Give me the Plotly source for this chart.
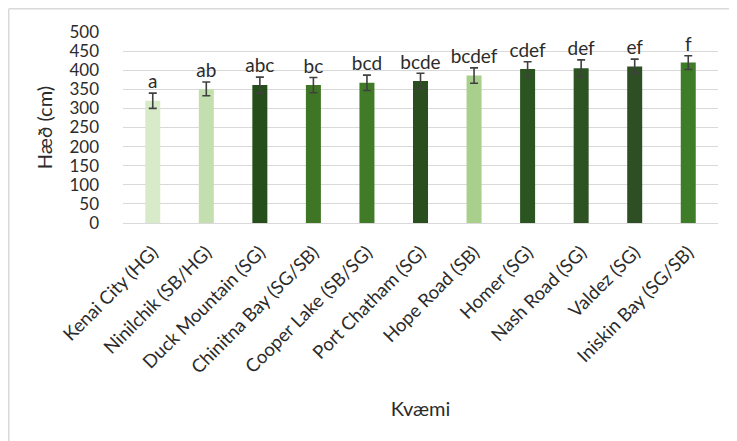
import plotly.graph_objects as go

categories = ["Kenai City (HG)", "Ninilchik (SB/HG)", "Duck Mountain (SG)", "Chinitna Bay (SG/SB)",
              "Cooper Lake (SB/SG)", "Port Chatham (SG)", "Hope Road (SB)", "Homer (SG)",
              "Nash Road (SG)", "Valdez (SG)", "Iniskin Bay (SG/SB)"]
heights = [320, 351, 361, 361, 367, 372, 386, 403, 405, 410, 420]
errors = [20, 18, 21, 20, 20, 20, 20, 19, 22, 19, 18]
letters = ["a", "ab", "abc", "bc", "bcd", "bcde", "bcdef", "cdef", "def", "ef", "f"]
colors = ["#d8ebc9", "#c3dfb0", "#254e1b", "#3f7626", "#417b27", "#284f1d", "#a8d08c",
          "#2b5520", "#2d5323", "#2e4f24", "#3f7c28"]
y_ticks = [0, 50, 100, 150, 200, 250, 300, 350, 400, 450, 500]

FONT = "Lato, Open Sans, sans-serif"
TXT = "#2b2b2b"

fig = go.Figure()
fig.add_trace(go.Bar(
    x=categories, y=heights,
    marker=dict(color=colors, line=dict(width=0)),
    width=0.28,
    error_y=dict(type="data", array=errors, visible=True, color="#404040", thickness=1.6, width=4),
    showlegend=False,
))
fig.add_trace(go.Scatter(
    x=categories, y=[h + e for h, e in zip(heights, errors)],
    mode="text", text=letters, textposition="top center",
    textfont=dict(family=FONT, size=19, color=TXT),
    showlegend=False, cliponaxis=False,
))

border = "#d9d9d9"
fig.update_layout(
    width=729, height=433,
    margin=dict(l=115, r=19, t=24, b=218),
    paper_bgcolor="white", plot_bgcolor="white",
    font=dict(family=FONT, color=TXT),
    xaxis=dict(
        tickangle=-45, tickfont=dict(size=18.5, color=TXT),
        showgrid=False, showline=False, zeroline=False, ticks="",
        ticklabelstandoff=14,
        automargin=False,
        title=dict(text="Kvæmi", font=dict(size=20, color=TXT), standoff=25),
    ),
    yaxis=dict(
        range=[0, 500], tickvals=y_ticks, ticktext=[str(v) for v in y_ticks],
        tickfont=dict(size=17, color=TXT),
        showgrid=True, gridcolor="#d9d9d9", gridwidth=1,
        zeroline=True, zerolinecolor="#d9d9d9", zerolinewidth=1,
        showline=False, ticks="", ticklabelstandoff=23,
        automargin=False,
        title=dict(text="Hæð (cm)", font=dict(size=20, color=TXT), standoff=11),
    ),
    shapes=[
        dict(type="line", xref="paper", yref="paper", x0=-0.192, x1=1.04, y0=1.1217, y1=1.1217,
             line=dict(color=border, width=1.5)),
        dict(type="line", xref="paper", yref="paper", x0=-0.192, x1=-0.192, y0=1.1217, y1=-1.2,
             line=dict(color=border, width=1.5)),
    ],
)

fig.write_html("out.html")
